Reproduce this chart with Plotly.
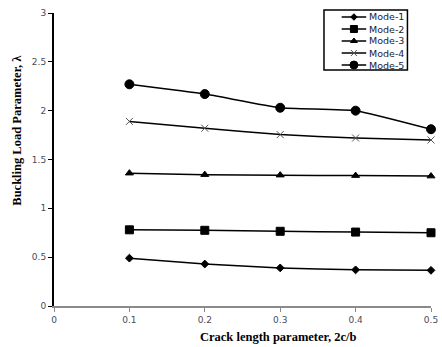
import plotly.graph_objects as go

crack = [0.1, 0.2, 0.3, 0.4, 0.5]
mode1 = [0.49, 0.43, 0.39, 0.37, 0.365]
mode2 = [0.78, 0.775, 0.765, 0.757, 0.75]
mode3 = [1.36, 1.345, 1.34, 1.335, 1.33]
mode4 = [1.89, 1.82, 1.755, 1.72, 1.70]
mode5 = [2.27, 2.17, 2.03, 2.00, 1.81]
names = ["Mode-1", "Mode-2", "Mode-3", "Mode-4", "Mode-5"]
series = [mode1, mode2, mode3, mode4, mode5]
x_ticks = [0, 0.1, 0.2, 0.3, 0.4, 0.5]
y_ticks = [0, 0.5, 1, 1.5, 2, 2.5, 3]

symbols = ["diamond", "square", "triangle-up", "x-thin-open", "circle"]
sizes = [6, 8, 7, 7, 9]
mcolors = ["black", "black", "black", "#555555", "black"]

# plot area in pixels
W, H = 442, 347
L, R, T, B = 54, 4, 13, 41
pw, ph = W - L - R, H - T - B


def px_x(x):
    return (x - L) / pw


def px_y(y):
    return (H - B - y) / ph


fig = go.Figure()
for n, s, sym, sz, mc in zip(names, series, symbols, sizes, mcolors):
    fig.add_trace(go.Scatter(
        x=crack, y=s, name=n, mode="lines+markers", showlegend=False,
        line=dict(color="black", width=1.5, shape="spline", smoothing=0.4),
        marker=dict(symbol=sym, size=sz, color=mc, line=dict(color=mc, width=1)),
        cliponaxis=False,
    ))

# manual legend (compact, like the reference)
shapes = [dict(type="rect", xref="paper", yref="paper",
               x0=px_x(329), x1=px_x(414), y0=px_y(70), y1=px_y(10),
               line=dict(color="black", width=1.5), fillcolor="white", layer="below")]
annotations = []
leg_y = [17, 29, 41, 53, 65]
for i, (n, sym, sz, mc) in enumerate(zip(names, symbols, sizes, mcolors)):
    yy = px_y(leg_y[i])
    shapes.append(dict(type="line", xref="paper", yref="paper",
                       x0=px_x(347), x1=px_x(372), y0=yy, y1=yy,
                       line=dict(color="black", width=1.5), layer="below"))
    annotations.append(dict(text=n, xref="paper", yref="paper", x=px_x(373), y=yy,
                            xanchor="left", yanchor="middle", showarrow=False,
                            font=dict(family="DejaVu Sans", size=9.5, color="#1a1a3a")))
    fig.add_trace(go.Scatter(
        x=[px_x(359.5)], y=[yy], xaxis="x2", yaxis="y2", mode="markers",
        showlegend=False, hoverinfo="skip", cliponaxis=False,
        marker=dict(symbol=sym, size=sz - 1, color=mc, line=dict(color=mc, width=1)),
    ))

annotations.append(dict(text="<b>Crack length parameter, 2c/b</b>", xref="paper", yref="paper",
                        x=px_x(283), y=px_y(337), xanchor="center", yanchor="middle",
                        showarrow=False,
                        font=dict(family="Liberation Serif", size=12.5, color="black")))
annotations.append(dict(text="<b>Buckling Load Parameter, λ</b>", xref="paper", yref="paper",
                        x=px_x(16), y=px_y(130), xanchor="center", yanchor="middle",
                        showarrow=False, textangle=-90,
                        font=dict(family="Liberation Serif", size=12.5, color="black")))

fig.update_layout(
    width=W, height=H,
    margin=dict(l=L, r=R, t=T, b=B),
    paper_bgcolor="white", plot_bgcolor="white",
    font=dict(family="DejaVu Sans", size=9, color="#4a4a5a"),
    showlegend=False,
    shapes=shapes, annotations=annotations,
    xaxis=dict(
        range=[0, 0.5], tickvals=x_ticks, ticktext=[f"{v:g}" for v in x_ticks],
        showgrid=False, zeroline=False, showline=True, linecolor="#8a8a8a", linewidth=1.5,
        ticks="outside", ticklen=4, tickcolor="#8a8a8a", ticklabeloverflow="allow",
    ),
    yaxis=dict(
        range=[0, 3], tickvals=y_ticks, ticktext=[f"{v:g}" for v in y_ticks],
        showgrid=False, zeroline=False, showline=True, linecolor="black", linewidth=2,
        ticks="outside", ticklen=4, tickcolor="black", ticklabeloverflow="allow",
    ),
    xaxis2=dict(range=[0, 1], overlaying="x", visible=False),
    yaxis2=dict(range=[0, 1], overlaying="y", visible=False),
)

fig.write_html("out.html", config={"displayModeBar": False},
               post_script="document.body.style.margin='0';document.body.style.overflow='hidden';")
